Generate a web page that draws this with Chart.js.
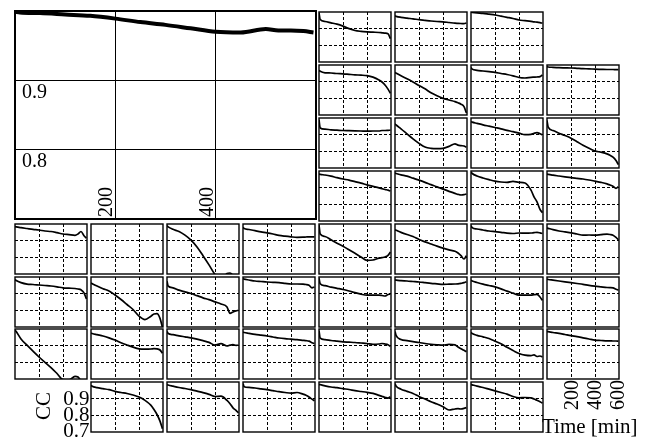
<!DOCTYPE html>
<html>
<head>
<meta charset="utf-8">
<script src="https://cdn.jsdelivr.net/npm/chart.js@4"></script>
<style>
  body { margin: 0; background: #fff; width: 649px; height: 442px; position: relative; overflow: hidden; font-family: "Liberation Serif", "Times New Roman", serif; }
  canvas { position: absolute; }
  .lbl { position: absolute; white-space: nowrap; color: #000; }
  .rot { transform-origin: 0 0; transform: rotate(-90deg); }
</style>
</head>
<body>
<script>
// time samples shared by every curve [min]
const minutes = [0, 10, 50, 100, 150, 200, 250, 300, 350, 400, 450, 500, 525, 550, 575, 595]
const xTicks = [200, 400]
const yTicks = [0.8, 0.9]

// CC values, one array per panel (row / column in the mosaic)
const ccMain = [0.999, 0.998, 0.997, 0.995, 0.993, 0.989, 0.984, 0.980, 0.975, 0.970, 0.969, 0.974, 0.972, 0.972, 0.971, 0.969]

const r0c4 = [0.995, 0.955, 0.943, 0.935, 0.927, 0.915, 0.900, 0.889, 0.884, 0.881, 0.879, 0.877, 0.875, 0.873, 0.870, 0.840]
const r0c5 = [0.977, 0.974, 0.968, 0.963, 0.959, 0.954, 0.950, 0.946, 0.943, 0.941, 0.937, 0.933, 0.932, 0.931, 0.930, 0.934]
const r0c6 = [0.999, 0.998, 0.995, 0.992, 0.987, 0.982, 0.975, 0.968, 0.961, 0.952, 0.948, 0.944, 0.941, 0.939, 0.936, 0.933]

const r1c4 = [0.968, 0.962, 0.953, 0.952, 0.949, 0.947, 0.944, 0.941, 0.939, 0.936, 0.927, 0.910, 0.898, 0.880, 0.855, 0.830]
const r1c5 = [0.955, 0.951, 0.935, 0.917, 0.898, 0.877, 0.857, 0.833, 0.815, 0.800, 0.790, 0.780, 0.773, 0.765, 0.750, 0.712]
const r1c6 = [0.985, 0.975, 0.968, 0.964, 0.960, 0.956, 0.949, 0.943, 0.935, 0.925, 0.922, 0.926, 0.927, 0.928, 0.930, 0.940]
const r1c7 = [0.990, 0.988, 0.986, 0.984, 0.983, 0.982, 0.980, 0.978, 0.977, 0.975, 0.974, 0.973, 0.973, 0.973, 0.972, 0.972]

const r2c4 = [0.990, 0.940, 0.933, 0.929, 0.927, 0.925, 0.924, 0.923, 0.922, 0.921, 0.922, 0.922, 0.925, 0.925, 0.926, 0.927]
const r2c5 = [0.965, 0.958, 0.935, 0.905, 0.875, 0.848, 0.826, 0.818, 0.816, 0.818, 0.830, 0.845, 0.837, 0.834, 0.832, 0.824]
const r2c6 = [0.978, 0.975, 0.968, 0.959, 0.951, 0.943, 0.935, 0.926, 0.918, 0.909, 0.900, 0.902, 0.908, 0.912, 0.906, 0.899]
const r2c7 = [0.985, 0.945, 0.925, 0.909, 0.895, 0.879, 0.858, 0.836, 0.818, 0.802, 0.795, 0.785, 0.776, 0.765, 0.745, 0.720]

const r3c4 = [0.982, 0.980, 0.976, 0.969, 0.960, 0.952, 0.945, 0.936, 0.927, 0.917, 0.908, 0.899, 0.894, 0.889, 0.885, 0.880]
const r3c5 = [0.987, 0.985, 0.977, 0.969, 0.957, 0.945, 0.932, 0.918, 0.905, 0.891, 0.878, 0.866, 0.860, 0.856, 0.858, 0.862]
const r3c6 = [0.993, 0.985, 0.970, 0.958, 0.948, 0.939, 0.934, 0.932, 0.938, 0.932, 0.928, 0.885, 0.845, 0.815, 0.770, 0.750]
const r3c7 = [0.982, 0.980, 0.975, 0.970, 0.965, 0.960, 0.956, 0.952, 0.946, 0.939, 0.932, 0.923, 0.916, 0.908, 0.896, 0.905]

const r4c0 = [0.985, 0.983, 0.978, 0.973, 0.968, 0.964, 0.958, 0.955, 0.948, 0.940, 0.936, 0.932, 0.940, 0.955, 0.930, 0.915]
const r4c1 = []
const r4c2 = [0.990, 0.983, 0.968, 0.955, 0.933, 0.903, 0.862, 0.810, 0.755, 0.697, 0.660, 0.703, 0.706, 0.690, 0.650, 0.640]
const r4c3 = [0.980, 0.973, 0.967, 0.960, 0.953, 0.947, 0.940, 0.932, 0.927, 0.923, 0.920, 0.921, 0.922, 0.923, 0.923, 0.923]
const r4c4 = [0.995, 0.940, 0.925, 0.905, 0.885, 0.867, 0.845, 0.824, 0.802, 0.782, 0.784, 0.795, 0.798, 0.802, 0.812, 0.832]
const r4c5 = [0.965, 0.962, 0.950, 0.937, 0.925, 0.907, 0.893, 0.880, 0.867, 0.855, 0.845, 0.836, 0.826, 0.810, 0.790, 0.810]
const r4c6 = [0.990, 0.978, 0.970, 0.964, 0.958, 0.954, 0.950, 0.945, 0.943, 0.946, 0.945, 0.946, 0.948, 0.950, 0.947, 0.943]
const r4c7 = [0.976, 0.974, 0.966, 0.958, 0.953, 0.947, 0.940, 0.933, 0.934, 0.933, 0.936, 0.939, 0.937, 0.933, 0.920, 0.905]

const r5c0 = [0.985, 0.979, 0.966, 0.957, 0.955, 0.952, 0.949, 0.946, 0.941, 0.935, 0.933, 0.931, 0.928, 0.923, 0.905, 0.868]
const r5c1 = [0.965, 0.960, 0.946, 0.930, 0.916, 0.892, 0.865, 0.835, 0.805, 0.765, 0.744, 0.765, 0.778, 0.780, 0.752, 0.700]
const r5c2 = [0.975, 0.945, 0.935, 0.921, 0.911, 0.901, 0.888, 0.875, 0.864, 0.851, 0.838, 0.820, 0.782, 0.790, 0.797, 0.800]
const r5c3 = [0.990, 0.987, 0.982, 0.976, 0.973, 0.970, 0.968, 0.966, 0.962, 0.958, 0.958, 0.957, 0.955, 0.950, 0.935, 0.940]
const r5c4 = [0.993, 0.960, 0.948, 0.939, 0.932, 0.925, 0.916, 0.906, 0.897, 0.891, 0.891, 0.891, 0.889, 0.886, 0.895, 0.897]
const r5c5 = [0.983, 0.981, 0.978, 0.976, 0.973, 0.970, 0.966, 0.962, 0.959, 0.956, 0.957, 0.958, 0.959, 0.962, 0.966, 0.972]
const r5c6 = [0.980, 0.976, 0.967, 0.957, 0.949, 0.941, 0.929, 0.915, 0.903, 0.891, 0.891, 0.891, 0.894, 0.896, 0.880, 0.860]
const r5c7 = [0.987, 0.985, 0.981, 0.976, 0.971, 0.966, 0.961, 0.956, 0.950, 0.945, 0.941, 0.937, 0.936, 0.935, 0.927, 0.921]

const r6c0 = [0.995, 0.985, 0.940, 0.903, 0.867, 0.832, 0.800, 0.768, 0.733, 0.697, 0.695, 0.716, 0.712, 0.690, 0.680, 0.675]
const r6c1 = [0.976, 0.973, 0.966, 0.958, 0.947, 0.934, 0.918, 0.904, 0.891, 0.881, 0.879, 0.880, 0.882, 0.881, 0.874, 0.855]
const r6c2 = [0.985, 0.973, 0.966, 0.959, 0.953, 0.947, 0.939, 0.930, 0.920, 0.903, 0.912, 0.898, 0.903, 0.906, 0.902, 0.903]
const r6c3 = [0.982, 0.979, 0.974, 0.968, 0.963, 0.958, 0.952, 0.946, 0.942, 0.939, 0.936, 0.932, 0.930, 0.927, 0.918, 0.913]
const r6c4 = [0.990, 0.945, 0.936, 0.931, 0.927, 0.923, 0.921, 0.919, 0.916, 0.913, 0.908, 0.910, 0.913, 0.910, 0.905, 0.895]
const r6c5 = [0.985, 0.960, 0.937, 0.930, 0.924, 0.919, 0.913, 0.908, 0.905, 0.903, 0.908, 0.905, 0.892, 0.882, 0.872, 0.863]
const r6c6 = [0.980, 0.973, 0.962, 0.953, 0.943, 0.927, 0.911, 0.890, 0.871, 0.853, 0.843, 0.840, 0.845, 0.835, 0.838, 0.832]
const r6c7 = [0.985, 0.984, 0.979, 0.974, 0.967, 0.960, 0.954, 0.947, 0.940, 0.933, 0.931, 0.929, 0.929, 0.928, 0.928, 0.927]

const r7c1 = [0.980, 0.974, 0.966, 0.960, 0.954, 0.944, 0.937, 0.931, 0.922, 0.910, 0.890, 0.860, 0.835, 0.805, 0.765, 0.720]
const r7c2 = [0.985, 0.982, 0.975, 0.967, 0.961, 0.954, 0.945, 0.936, 0.926, 0.913, 0.915, 0.890, 0.870, 0.845, 0.830, 0.815]
const r7c3 = [0.990, 0.972, 0.968, 0.964, 0.959, 0.954, 0.948, 0.942, 0.937, 0.933, 0.937, 0.927, 0.920, 0.910, 0.897, 0.887]
const r7c4 = [0.985, 0.984, 0.977, 0.970, 0.966, 0.960, 0.955, 0.948, 0.943, 0.938, 0.932, 0.920, 0.914, 0.908, 0.903, 0.912]
const r7c5 = [0.990, 0.975, 0.957, 0.944, 0.931, 0.913, 0.898, 0.882, 0.868, 0.852, 0.832, 0.838, 0.840, 0.838, 0.842, 0.846]
const r7c6 = [0.985, 0.983, 0.975, 0.967, 0.957, 0.947, 0.937, 0.927, 0.913, 0.905, 0.907, 0.905, 0.898, 0.890, 0.882, 0.873]

// where each small panel sits: [row, column, values]
const smallPanels = [
  [0, 4, r0c4], [0, 5, r0c5], [0, 6, r0c6],
  [1, 4, r1c4], [1, 5, r1c5], [1, 6, r1c6], [1, 7, r1c7],
  [2, 4, r2c4], [2, 5, r2c5], [2, 6, r2c6], [2, 7, r2c7],
  [3, 4, r3c4], [3, 5, r3c5], [3, 6, r3c6], [3, 7, r3c7],
  [4, 0, r4c0], [4, 1, r4c1], [4, 2, r4c2], [4, 3, r4c3], [4, 4, r4c4], [4, 5, r4c5], [4, 6, r4c6], [4, 7, r4c7],
  [5, 0, r5c0], [5, 1, r5c1], [5, 2, r5c2], [5, 3, r5c3], [5, 4, r5c4], [5, 5, r5c5], [5, 6, r5c6], [5, 7, r5c7],
  [6, 0, r6c0], [6, 1, r6c1], [6, 2, r6c2], [6, 3, r6c3], [6, 4, r6c4], [6, 5, r6c5], [6, 6, r6c6], [6, 7, r6c7],
  [7, 1, r7c1], [7, 2, r7c2], [7, 3, r7c3], [7, 4, r7c4], [7, 5, r7c5], [7, 6, r7c6]
]

const framePlugin = {
  id: "frame",
  afterDraw(chart, args, opts) {
    const { ctx, chartArea: a } = chart
    ctx.save()
    ctx.lineWidth = opts.width
    ctx.strokeStyle = "#000"
    ctx.strokeRect(a.left, a.top, a.right - a.left, a.bottom - a.top)
    ctx.restore()
  }
}

const axis = (min, max, ticks, dash, gridWidth) => ({
  type: "linear",
  min: min,
  max: max,
  afterBuildTicks: scale => { scale.ticks = ticks.map(v => ({ value: v })) },
  ticks: { display: false },
  grid: { color: "#000", lineWidth: gridWidth, drawTicks: false },
  border: { display: false, dash: dash }
})

function drawPanel(left, top, w, h, values, big) {
  const pad = big ? 3 : 2
  const canvas = document.createElement("canvas")
  canvas.width = w + 2 * pad
  canvas.height = h + 2 * pad
  canvas.style.left = (left - pad) + "px"
  canvas.style.top = (top - pad) + "px"
  canvas.style.width = canvas.width + "px"
  canvas.style.height = canvas.height + "px"
  document.body.appendChild(canvas)

  new Chart(canvas, {
    type: "line",
    data: {
      datasets: [{
        data: values.map((v, i) => ({ x: minutes[i], y: v })),
        borderColor: "#000",
        borderWidth: big ? 4 : 1.7,
        pointRadius: 0,
        cubicInterpolationMode: "monotone",
        fill: false
      }]
    },
    options: {
      responsive: false,
      animation: false,
      devicePixelRatio: 1,
      layout: { padding: pad },
      events: [],
      scales: {
        x: axis(0, 600, xTicks, big ? [] : [3, 2], 1),
        y: axis(0.7, 1.0, yTicks, big ? [] : [3, 2], 1)
      },
      plugins: {
        legend: { display: false },
        tooltip: { enabled: false },
        frame: { width: big ? 2 : 1.4 }
      }
    },
    plugins: [framePlugin]
  })
}

function label(text, left, top, size, rotated, extra) {
  const d = document.createElement("div")
  d.className = "lbl" + (rotated ? " rot" : "")
  d.textContent = text
  d.style.left = left + "px"
  d.style.top = top + "px"
  d.style.fontSize = size + "px"
  d.style.lineHeight = size + "px"
  if (extra) Object.assign(d.style, extra)
  document.body.appendChild(d)
}

// big panel
drawPanel(15, 11, 301, 208, ccMain, true)

// mosaic of small panels
smallPanels.forEach(([row, col, values]) => {
  const left = Math.round(15 + 76.05 * col)
  const top = Math.round(12.3 + 52.86 * row)
  drawPanel(left, top, 72, 50, values, false)
})

// labels inside the big panel
label("0.9", 22, 81, 20)
label("0.8", 22, 150, 20)
label("200", 95, 217, 20, true)
label("400", 196, 217, 20, true)

// y axis key, bottom left
label("CC", 33, 420, 21, true)
label("0.9", 0, 388, 21, false, { width: "89.5px", textAlign: "right" })
label("0.8", 0, 404, 21, false, { width: "89.5px", textAlign: "right" })
label("0.7", 0, 420, 21, false, { width: "89.5px", textAlign: "right" })

// x axis key, bottom right
label("200", 561, 410, 20, true)
label("400", 584, 410, 20, true)
label("600", 607, 410, 20, true)
label("Time [min]", 542, 416, 21)
</script>
</body>
</html>
